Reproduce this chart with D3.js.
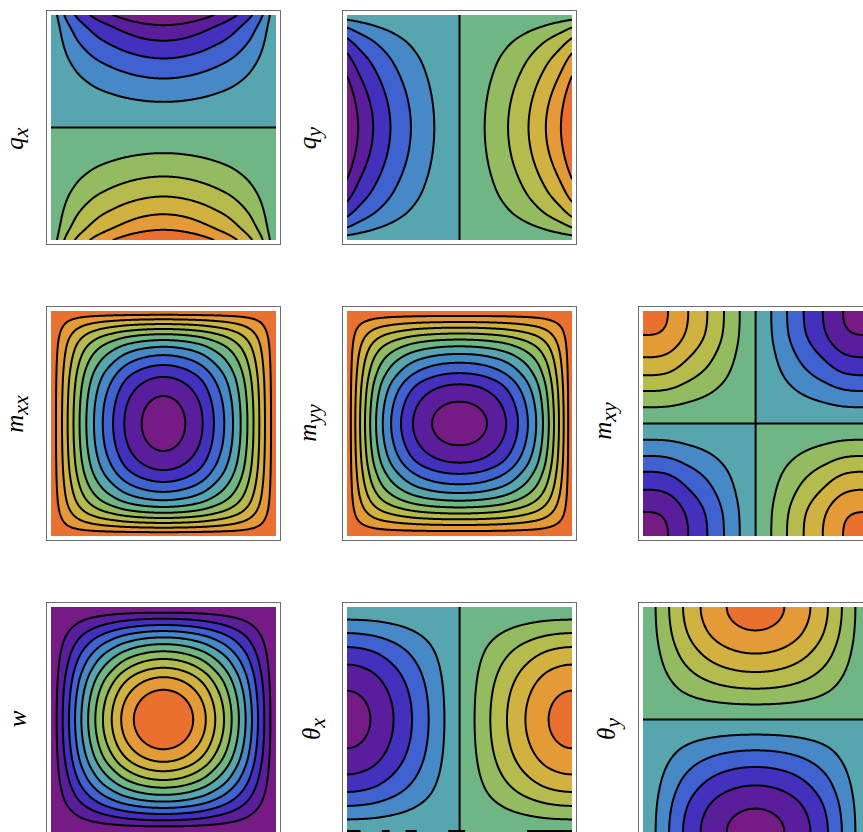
<!DOCTYPE html>
<html><head><meta charset="utf-8">
<script src="https://cdn.jsdelivr.net/npm/d3@7"></script>
<style>html,body{margin:0;padding:0;background:#fff;overflow:hidden}svg{display:block}</style>
</head><body><svg id="c" width="863" height="832"></svg>
<script>
// Colour of each of the twelve contour bands, low to high
const bandColors = ["#761b85","#5a1e9c","#4330bd","#3f62d0","#4689c6","#57a5ae","#70b584","#93bb60","#b5bc4d","#d1b140","#e49a37","#e9702f"];
// Panel names, read as row / column of the small-multiples grid
const panelNames = ["qx","qy","mxx","myy","mxy","w","thetaX","thetaY"];
const panelRows  = [0,0,1,1,1,2,2,2];
const panelCols  = [0,1,0,1,2,0,1,2];
// Where each contour crosses the panel's reference lines, as a fraction of panel width/height
const qxTopEdge = [.027,.059,.106,.173,.276];
const qxMidCol  = [.045,.114,.193,.282,.386];
const qyLeftEdge= [.021,.056,.103,.170,.272];
const qyMidRow  = [.049,.116,.193,.284,.388];
const mxxMidRow = [.022,.049,.074,.100,.127,.157,.191,.230,.276,.326,.403];
const mxxMidCol = [.017,.037,.058,.080,.103,.129,.159,.196,.240,.293,.378];
const myyMidRow = [.017,.037,.058,.080,.103,.129,.159,.196,.240,.293,.378];
const myyMidCol = [.022,.049,.074,.100,.127,.157,.191,.230,.276,.326,.403];
const mxyTopEdge= [.111,.201,.286,.360,.430];
const mxyLeftEdge=[.107,.206,.286,.356,.428];
const wMidRow   = [.025,.052,.080,.107,.135,.165,.197,.231,.270,.312,.368];
const wMidCol   = [.025,.052,.080,.107,.135,.165,.197,.231,.270,.312,.368];
const thetaXLeftEdge=[.056,.116,.178,.256,.372];
const thetaXMidRow  =[.104,.207,.289,.363,.433];
const thetaYTopEdge =[.056,.116,.178,.256,.372];
const thetaYMidCol  =[.104,.207,.289,.363,.433];
// Contour spacing of each panel as a share of its peak value
const qSpacing = 1/6, momentSpacing = .087, twistSpacing = .19, deflectionSpacing = 1/12, rotationSpacing = .186;
// Short stray contour pieces along the bottom of the thetaX panel [from,to]
const thetaXStrays = [[0,.06],[.155,.19],[.26,.31],[.45,.525],[.80,1]];
// Axis labels: letter and subscript
const labelLetters = ["q","q","m","m","m","w","θ","θ"];
const labelSubs    = ["x","y","xx","yy","xy","","x","y"];
const labelBaseX   = [22.5,316,22.5,316,611,26,320,615];
const labelCenterY = [138.5,138,414,423,421,719,729,729];

const frameX = [46.5,342.5,638.5], frameY = [10.5,306.5,602.5];
const frameSize = 234, plotInset = 4.5, plotSize = 225;
const nGrid = 225, pad = 3;

function curve(xs, ys, flat){
  const n = xs.length, d = [], h = [], m = [];
  for(let i=0;i<n-1;i++){ h.push(xs[i+1]-xs[i]); d.push((ys[i+1]-ys[i])/h[i]); }
  m[0]=flat?0:d[0]; m[n-1]=flat?0:d[n-2];
  for(let i=1;i<n-1;i++) m[i] = (h[i]*d[i-1]+h[i-1]*d[i])/(h[i-1]+h[i]);
  return x => {
    x = Math.max(0,Math.min(1,x));
    let i = Math.min(n-2, d3.bisectRight(xs,x)-1);
    const hh = h[i], t=(x-xs[i])/hh, t2=t*t, t3=t2*t;
    return (2*t3-3*t2+1)*ys[i]+(t3-2*t2+t)*hh*m[i]+(-2*t3+3*t2)*ys[i+1]+(t3-t2)*hh*m[i+1];
  };
}
function evenProfile(c,step){
  const lv=c.map((_,i)=>(i+1)*step);
  const xs=[0,...c,.5,...c.slice().reverse().map(u=>1-u),1];
  const ys=[0,...lv,1,...lv.slice().reverse(),0];
  return curve(xs,ys,false);
}
function oddProfile(c,step,flat){
  const n=c.length, lv=c.map((_,i)=>(n-i)*step);
  const xs=[0,...c,.5,...c.slice().reverse().map(u=>1-u),1];
  const ys=[1,...lv,0,...lv.slice().reverse().map(v=>-v),-1];
  return curve(xs,ys,flat);
}
const specs = {
  qx:{X:evenProfile(qxTopEdge,qSpacing),Y:oddProfile(qxMidCol,qSpacing,false),s:-1,p:-.25,step:qSpacing},
  qy:{X:oddProfile(qyMidRow,qSpacing,false),Y:evenProfile(qyLeftEdge,qSpacing),s:-1,p:-.25,step:qSpacing},
  mxx:{X:evenProfile(mxxMidRow,momentSpacing),Y:evenProfile(mxxMidCol,momentSpacing),inv:true,p:.3,step:momentSpacing},
  myy:{X:evenProfile(myyMidRow,momentSpacing),Y:evenProfile(myyMidCol,momentSpacing),inv:true,p:.3,step:momentSpacing},
  mxy:{X:oddProfile(mxyTopEdge,twistSpacing,true),Y:oddProfile(mxyLeftEdge,twistSpacing,true),s:1,p:0,step:twistSpacing},
  w:{X:evenProfile(wMidRow,deflectionSpacing),Y:evenProfile(wMidCol,deflectionSpacing),pos:true,p:0,step:deflectionSpacing},
  thetaX:{X:oddProfile(thetaXMidRow,rotationSpacing,true),Y:evenProfile(thetaXLeftEdge,rotationSpacing),s:-1,p:0,step:rotationSpacing},
  thetaY:{X:evenProfile(thetaYTopEdge,rotationSpacing),Y:oddProfile(thetaYMidCol,rotationSpacing,true),s:1,p:0,step:rotationSpacing}
};
const floorV=.0015;
function combine(a,b,p,odd){
  if(a===0&&odd==="x") return 0;
  if(b===0&&odd==="y") return 0;
  const sa=Math.sign(a)||1, sb=Math.sign(b)||1;
  const x=Math.max(Math.abs(a),floorV), y=Math.max(Math.abs(b),floorV);
  let m;
  if(p>0) m=Math.pow(Math.pow(x,-p)+Math.pow(y,-p)-1,-1/p);
  else if(p<0) m=Math.pow(Math.max(Math.pow(x,-p)+Math.pow(y,-p)-1,0),-1/p)+1e-3*x*y;
  else m=x*y;
  return sa*sb*m;
}
const thresholds = d3.range(1,12).map(k=>k/12);
const svg = d3.select("#c");
const W = nGrid+2*pad;

panelNames.forEach((name,i)=>{
  const fx=frameX[panelCols[i]], fy=frameY[panelRows[i]];
  const sp=specs[name];
  const g=svg.append("g").attr("class","panel-"+name);
  const px0=fx+plotInset, py0=fy+plotInset;
  const sx=d3.scaleLinear().domain([pad,pad+nGrid]).range([px0,px0+plotSize]);
  const sy=d3.scaleLinear().domain([pad,pad+nGrid]).range([py0,py0+plotSize]);
  const values=new Float64Array(W*W);
  const Xv=d3.range(W).map(k=>sp.X((k+.5-pad)/nGrid));
  const Yv=d3.range(W).map(k=>sp.Y((k+.5-pad)/nGrid));
  const unit=12*sp.step;
  const oddAxis = name==="qx" ? "y" : name==="qy" ? "x" : null;
  for(let b=0;b<W;b++) for(let a=0;a<W;a++){
    const m=combine(Xv[a],Yv[b],sp.p,oddAxis)/unit;
    values[b*W+a]= sp.inv ? 1-m : sp.pos ? m : .5+sp.s*m;
  }
  const contours=d3.contours().size([W,W]).smooth(true).thresholds(thresholds)(values);
  const path=d3.geoPath(d3.geoTransform({point(x,y){this.stream.point(sx(x),sy(y));}}));
  const cid="clip-"+name;
  svg.append("defs").append("clipPath").attr("id",cid).append("rect")
    .attr("x",px0).attr("y",py0).attr("width",plotSize).attr("height",plotSize);
  const inner=g.append("g").attr("clip-path",`url(#${cid})`);
  inner.append("rect").attr("x",px0).attr("y",py0).attr("width",plotSize).attr("height",plotSize).attr("fill",bandColors[0]);
  inner.selectAll("path.band").data(contours).join("path").attr("class","band")
    .attr("d",path).attr("fill",(d,k)=>bandColors[k+1]);
  inner.selectAll("path.line").data(contours).join("path").attr("class","line")
    .attr("d",path).attr("fill","none").attr("stroke","#000").attr("stroke-width",2);
  if(name==="thetaX"){
    const ux=d3.scaleLinear().domain([0,1]).range([px0,px0+plotSize]);
    inner.selectAll("line.stray").data(thetaXStrays).join("line").attr("class","stray")
      .attr("x1",d=>ux(d[0])).attr("x2",d=>ux(d[1])).attr("y1",831).attr("y2",831)
      .attr("stroke","#000").attr("stroke-width",2);
  }
  g.append("rect").attr("x",fx).attr("y",fy).attr("width",frameSize).attr("height",frameSize)
    .attr("fill","none").attr("stroke","#6e6e6e").attr("stroke-width",1);
  const t=g.append("text").attr("transform",`translate(${labelBaseX[i]},${labelCenterY[i]}) rotate(-90)`)
    .attr("text-anchor","middle").attr("font-family","'Liberation Serif',serif").attr("font-style","italic")
    .attr("font-size",25).attr("fill","#000");
  t.append("tspan").text(labelLetters[i]);
  if(labelSubs[i]) {
    t.append("tspan").attr("font-size",22).attr("dy",5).text(labelSubs[i]);
  }
});
</script></body></html>
